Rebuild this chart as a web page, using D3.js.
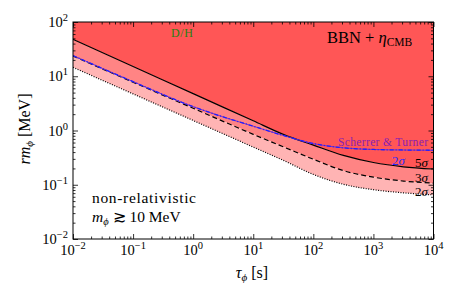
<!DOCTYPE html>
<html>
<head>
<meta charset="utf-8">
<script src="https://cdn.jsdelivr.net/npm/d3@7"></script>
<style>
  body { margin: 0; background: #fff; }
  text { font-family: "Liberation Serif", "DejaVu Serif", serif; fill: #000; }
</style>
</head>
<body>
<svg id="chart" width="457" height="286"></svg>
<script>
// lifetime grid (s) and bounds on r*m_phi (MeV)
const tau = [0.01, 0.1, 1, 10, 31.6, 100, 316, 1000, 3160, 10000];
const bound5sigma = [47.9, 15.1, 4.79, 1.51, 0.85, 0.537, 0.347, 0.257, 0.214, 0.195];
const bound3sigma = [23.6, 7.76, 2.57, 0.85, 0.50, 0.295, 0.182, 0.138, 0.117, 0.107];
const bound2sigma = [14.6, 4.73, 1.53, 0.495, 0.282, 0.155, 0.102, 0.081, 0.071, 0.065];

// Scherrer & Turner 2 sigma curve
const tauST = [0.01, 0.1, 1, 3.16, 10, 31.6, 100, 316, 1000, 3160, 10000];
const boundST = [24.0, 7.94, 2.75, 1.78, 1.20, 0.81, 0.575, 0.479, 0.447, 0.437, 0.432];

const xTicks = [1e-2, 1e-1, 1, 1e1, 1e2, 1e3, 1e4];
const xTickExp = ['\u22122', '\u22121', '0', '1', '2', '3', '4'];
const yTicks = [1e-2, 1e-1, 1, 1e1, 1e2];
const yTickExp = ['\u22122', '\u22121', '0', '1', '2'];

const pLeft = 73, pRight = 433.5, pTop = 22, pBottom = 239;

const svg = d3.select('#chart');
const x = d3.scaleLog().domain([1e-2, 1e4]).range([pLeft, pRight]);
const y = d3.scaleLog().domain([1e-2, 1e2]).range([pBottom, pTop]);

// minor ticks 2..9 in every decade
function minors(lo, hi) {
  let out = [];
  for (let e = lo; e < hi; e++) {
    for (let k = 2; k <= 9; k++) out.push(k * Math.pow(10, e));
  }
  return out;
}

svg.append('clipPath').attr('id', 'plotclip')
  .append('rect').attr('x', pLeft).attr('y', pTop)
  .attr('width', pRight - pLeft).attr('height', pBottom - pTop);

const plot = svg.append('g').attr('clip-path', 'url(#plotclip)');

const pts = (xs, ys) => xs.map((t, i) => [t, ys[i]]);
const curve = d3.curveMonotoneX;

//filled bands
plot.append('path')
  .datum(pts(tau, bound5sigma))
  .attr('fill', '#ff5656')
  .attr('d', d3.area().curve(curve).x(d => x(d[0])).y0(pTop).y1(d => y(d[1])));

plot.append('path')
  .datum(tau.map((t, i) => [t, bound5sigma[i], bound3sigma[i]]))
  .attr('fill', '#ff8484')
  .attr('d', d3.area().curve(curve).x(d => x(d[0])).y0(d => y(d[1])).y1(d => y(d[2])));

plot.append('path')
  .datum(tau.map((t, i) => [t, bound3sigma[i], bound2sigma[i]]))
  .attr('fill', '#ffb4b4')
  .attr('d', d3.area().curve(curve).x(d => x(d[0])).y0(d => y(d[1])).y1(d => y(d[2])));

const line = d3.line().curve(curve).x(d => x(d[0])).y(d => y(d[1]));

plot.append('path').datum(pts(tau, bound5sigma))
  .attr('fill', 'none').attr('stroke', '#000').attr('stroke-width', 1.2)
  .attr('d', line);
plot.append('path').datum(pts(tau, bound3sigma))
  .attr('fill', 'none').attr('stroke', '#000').attr('stroke-width', 1.2)
  .attr('stroke-dasharray', '5,3').attr('d', line);
plot.append('path').datum(pts(tau, bound2sigma))
  .attr('fill', 'none').attr('stroke', '#000').attr('stroke-width', 1.2)
  .attr('stroke-dasharray', '1,1.5').attr('d', line);

// Scherrer & Turner: purple solid under a blue dash-dot
plot.append('path').datum(pts(tauST, boundST))
  .attr('fill', 'none').attr('stroke', '#7a2fc8').attr('stroke-width', 1)
  .attr('d', line);
plot.append('path').datum(pts(tauST, boundST))
  .attr('fill', 'none').attr('stroke', '#1f1fff').attr('stroke-width', 1.3)
  .attr('stroke-dasharray', '4,2,1,2').attr('d', line);

//axes with inward ticks on all sides
const axes = [
  [d3.axisBottom(x), `translate(0,${pBottom})`, xTicks, minors(-2, 4)],
  [d3.axisTop(x), `translate(0,${pTop})`, xTicks, minors(-2, 4)],
  [d3.axisLeft(y), `translate(${pLeft},0)`, yTicks, minors(-2, 2)],
  [d3.axisRight(y), `translate(${pRight},0)`, yTicks, minors(-2, 2)]
];
axes.forEach(([ax, tr, major, minor]) => {
  svg.append('g').attr('transform', tr)
    .call(ax.tickValues(major).tickSize(-5).tickSizeOuter(0).tickFormat(''))
    .call(g => g.select('.domain').remove());
  svg.append('g').attr('transform', tr)
    .call(ax.tickValues(minor).tickSize(-2.5).tickSizeOuter(0).tickFormat(''))
    .call(g => g.select('.domain').remove());
});
svg.selectAll('.tick line').attr('stroke', '#000').attr('stroke-width', 0.8);

svg.append('rect').attr('x', pLeft).attr('y', pTop)
  .attr('width', pRight - pLeft).attr('height', pBottom - pTop)
  .attr('fill', 'none').attr('stroke', '#000').attr('stroke-width', 1);

// tick labels 10^n
xTicks.forEach((v, i) => {
  const t = svg.append('text').attr('x', x(v)).attr('y', 255)
    .attr('text-anchor', 'middle').attr('font-size', 14.5);
  t.append('tspan').text('10');
  t.append('tspan').attr('dy', -6).attr('font-size', 10.5).text(xTickExp[i]);
});
yTicks.forEach((v, i) => {
  const t = svg.append('text').attr('x', 68).attr('y', y(v) + 5)
    .attr('text-anchor', 'end').attr('font-size', 14.5);
  t.append('tspan').text('10');
  t.append('tspan').attr('dy', -6).attr('font-size', 10.5).text(yTickExp[i]);
});

// axis titles
const xl = svg.append('text').attr('x', 252).attr('y', 278)
  .attr('text-anchor', 'middle').attr('font-size', 16);
xl.append('tspan').attr('font-style', 'italic').text('\u03c4');
xl.append('tspan').attr('font-style', 'italic').attr('font-size', 11).attr('dy', 3).text('\u03d5');
xl.append('tspan').attr('dy', -3).text(' [s]');

const yl = svg.append('text').attr('transform', 'translate(30,129) rotate(-90)')
  .attr('text-anchor', 'middle').attr('font-size', 16);
yl.append('tspan').attr('font-style', 'italic').text('rm');
yl.append('tspan').attr('font-style', 'italic').attr('font-size', 11).attr('dy', 3).text('\u03d5');
yl.append('tspan').attr('dy', -3).text(' [MeV]');

// annotations
const bbn = svg.append('text').attr('x', 327).attr('y', 43).attr('font-size', 16.5);
bbn.append('tspan').text('BBN + ');
bbn.append('tspan').attr('font-style', 'italic').text('\u03b7');
bbn.append('tspan').attr('font-size', 11.5).attr('dy', 3).text('CMB');

svg.append('text').attr('x', 171).attr('y', 37).attr('font-size', 12)
  .attr('textLength', 22).style('fill', '#2a8010').text('D/H');

svg.append('text').attr('x', 92).attr('y', 203).attr('font-size', 15.5)
  .attr('textLength', 104).text('non-relativistic');
const m10 = svg.append('text').attr('x', 92).attr('y', 222).attr('font-size', 15.5);
m10.append('tspan').attr('font-style', 'italic').text('m');
m10.append('tspan').attr('font-style', 'italic').attr('font-size', 10.5).attr('dy', 3).text('\u03d5');
m10.append('tspan').attr('dy', -3).text(' \u2273 10 MeV');

svg.append('text').attr('x', 338).attr('y', 146)
  .attr('font-size', 11.5).attr('textLength', 90).style('fill', '#8a1fb0').text('Scherrer & Turner');

function sigmaLabel(xp, yp, n, col) {
  const t = svg.append('text').attr('x', xp).attr('y', yp).attr('font-size', 13).style('fill', col);
  t.append('tspan').text(n);
  t.append('tspan').attr('font-style', 'italic').text('\u03c3');
}
sigmaLabel(392, 165, '2', '#2a2aff');
sigmaLabel(415, 167, '5', '#000');
sigmaLabel(415, 182, '3', '#000');
sigmaLabel(415, 196, '2', '#000');
</script>
</body>
</html>
